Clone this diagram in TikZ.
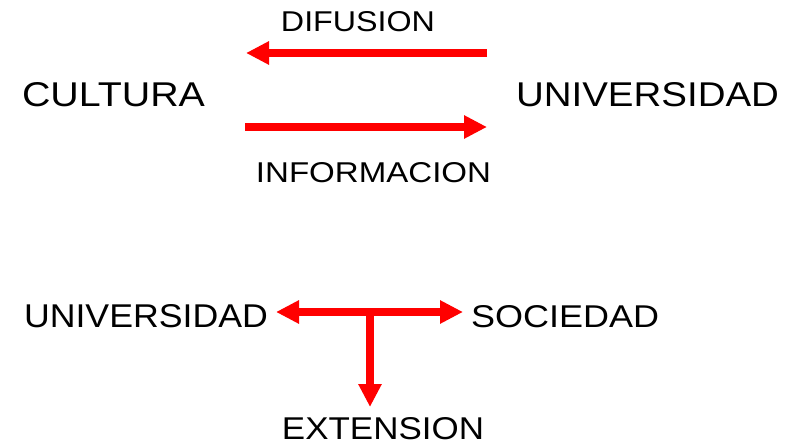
\documentclass[tikz,border=0pt]{standalone}
\usepackage{fontspec}
\usepackage{graphicx}
\setmainfont{Liberation Sans}
\usetikzlibrary{arrows.meta}
\newcommand{\fitlbl}[3]{\resizebox{#1pt}{#2pt}{#3}}
\begin{document}
\begin{tikzpicture}[x=1pt,y=-1pt,
  lbl/.style={inner sep=0pt, outer sep=0pt, font=\fontsize{30pt}{32pt}\selectfont},
  arr/.style={draw=red, line width=8pt, -{Triangle[length=23pt,width=22pt]}},
  darr/.style={draw=red, line width=8pt, {Triangle[length=23pt,width=22pt]}-{Triangle[length=23pt,width=22pt]}}]
\useasboundingbox (0,0) rectangle (790,446);
% labels
\node[lbl] (dif)  at (358,22)    {\fitlbl{154}{20}{DIFUSION}};
\node[lbl] (cul)  at (113.5,95)  {\fitlbl{183}{24}{CULTURA}};
\node[lbl] (uni)  at (647.5,95)  {\fitlbl{263}{24}{UNIVERSIDAD}};
\node[lbl] (inf)  at (373.5,173) {\fitlbl{235}{20}{INFORMACION}};
\node[lbl] (uni2) at (146,316.5) {\fitlbl{244}{23}{UNIVERSIDAD}};
\node[lbl] (soc)  at (565,317)   {\fitlbl{188}{22}{SOCIEDAD}};
\node[lbl] (ext)  at (383,429)   {\fitlbl{202}{22}{EXTENSION}};
% connector end points
\coordinate (d1) at (487,53);
\coordinate (d2) at (246,53);
\coordinate (i1) at (245,127);
\coordinate (i2) at (487,127);
\coordinate (s1) at (276,312);
\coordinate (s2) at (463,312);
\coordinate (j)  at (370,312);
\coordinate (e1) at (370,407);
% connectors
\draw[arr] (d1) -- (d2);
\draw[arr] (i1) -- (i2);
\draw[darr] (s1) -- (s2);
\draw[arr] (j) -- (e1);
\end{tikzpicture}
\end{document}
